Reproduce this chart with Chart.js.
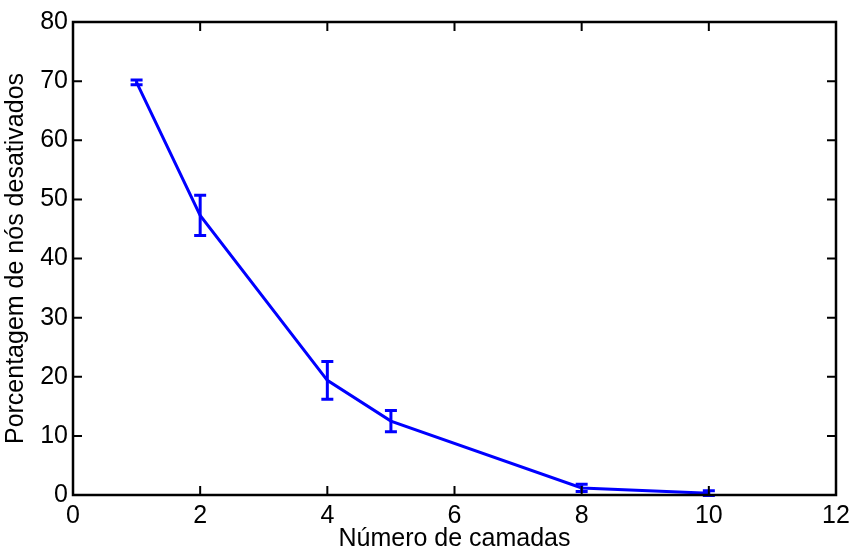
<!DOCTYPE html>
<html><head><meta charset="utf-8">
<script src="https://cdn.jsdelivr.net/npm/chart.js@4"></script>
<style>html,body{margin:0;padding:0;background:#fff}#wrap{width:851px;height:552px}</style>
</head><body><div id="wrap"><canvas id="c" width="851" height="552"></canvas></div>
<script>
const layers = [1, 2, 4, 5, 8, 10];
const percentDeactivated = [69.8, 47.3, 19.4, 12.5, 1.2, 0.3];
const errorHalf = [0.4, 3.4, 3.2, 1.8, 0.6, 0.4];
const xTicks = [0, 2, 4, 6, 8, 10, 12];
const yTicks = [0, 10, 20, 30, 40, 50, 60, 70, 80];

const FONT = '"Liberation Sans", Arial, sans-serif';

const boxPlugin = {
  id: 'box',
  afterDatasetsDraw(chart) {
    const {ctx, chartArea: a, scales: {x, y}} = chart;
    ctx.save();
    // error bars
    const meta = chart.getDatasetMeta(0);
    ctx.strokeStyle = '#0000ff';
    ctx.lineWidth = 3;
    meta.data.forEach((pt, i) => {
      const px = x.getPixelForValue(layers[i]);
      const top = y.getPixelForValue(percentDeactivated[i] + errorHalf[i]);
      const bot = y.getPixelForValue(percentDeactivated[i] - errorHalf[i]);
      ctx.beginPath();
      ctx.moveTo(px, top); ctx.lineTo(px, bot);
      ctx.moveTo(px - 6, top); ctx.lineTo(px + 6, top);
      ctx.moveTo(px - 6, bot); ctx.lineTo(px + 6, bot);
      ctx.stroke();
    });
    // box
    ctx.strokeStyle = '#000';
    ctx.lineWidth = 2.5;
    ctx.strokeRect(a.left, a.top, a.right - a.left, a.bottom - a.top);
    // inward ticks
    ctx.lineWidth = 2;
    ctx.beginPath();
    const L = 9;
    xTicks.forEach(v => {
      const px = x.getPixelForValue(v);
      ctx.moveTo(px, a.bottom); ctx.lineTo(px, a.bottom - L);
      ctx.moveTo(px, a.top); ctx.lineTo(px, a.top + L);
    });
    yTicks.forEach(v => {
      const py = y.getPixelForValue(v);
      ctx.moveTo(a.left, py); ctx.lineTo(a.left + L, py);
      ctx.moveTo(a.right, py); ctx.lineTo(a.right - L, py);
    });
    ctx.stroke();
    ctx.restore();
  }
};

new Chart(document.getElementById('c'), {
  type: 'line',
  data: {
    datasets: [{
      data: layers.map((v, i) => ({x: v, y: percentDeactivated[i]})),
      borderColor: '#0000ff',
      borderWidth: 3,
      pointRadius: 0,
      tension: 0,
      fill: false
    }]
  },
  options: {
    responsive: false,
    animation: false,
    devicePixelRatio: 1,
    layout: {padding: {left: 4, right: 15, top: 22, bottom: 0}},
    plugins: {legend: {display: false}, tooltip: {enabled: false}},
    scales: {
      x: {
        type: 'linear', min: 0, max: 12,
        afterBuildTicks: s => { s.ticks = xTicks.map(v => ({value: v})); },
        ticks: {color: '#000', font: {family: FONT, size: 25, lineHeight: 1}, padding: 9, maxRotation: 0},
        grid: {display: false, drawTicks: false},
        border: {display: false},
        title: {display: true, text: 'Número de camadas', color: '#000', font: {family: FONT, size: 25, lineHeight: 1}, padding: {top: 0, bottom: 0}},
        afterFit: s => { s.height = 57; s.paddingLeft = 0; s.paddingRight = 0; }
      },
      y: {
        type: 'linear', min: 0, max: 80,
        afterBuildTicks: s => { s.ticks = yTicks.map(v => ({value: v})); },
        ticks: {color: '#000', font: {family: FONT, size: 25, lineHeight: 1}, padding: 5},
        grid: {display: false, drawTicks: false},
        border: {display: false},
        title: {display: true, text: 'Porcentagem de nós desativados', color: '#000', font: {family: FONT, size: 25, lineHeight: 1}, padding: {top: 0, bottom: 4}},
        afterFit: s => { s.width = 69; s.paddingTop = 0; s.paddingBottom = 0; }
      }
    }
  },
  plugins: [boxPlugin]
});
</script>
</body></html>
